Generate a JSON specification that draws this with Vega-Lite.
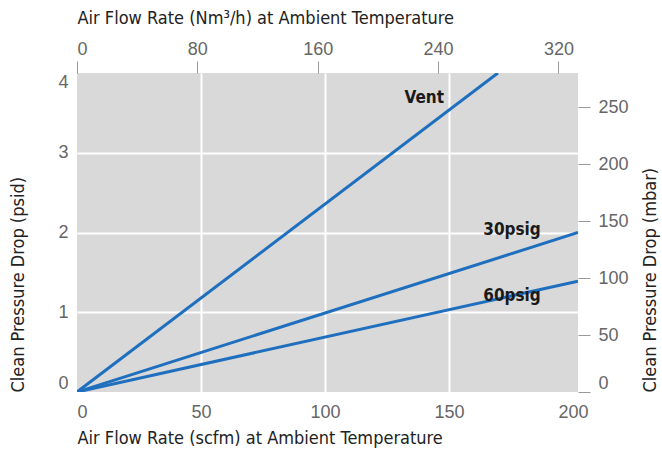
{
  "$schema": "https://vega.github.io/schema/vega-lite/v6.json",
  "width": 501,
  "height": 319,
  "autosize": {"type": "none"},
  "padding": {"left": 77, "top": 73, "right": 84, "bottom": 57},
  "background": "white",
  "config": {
    "view": {"fill": "#d9d9d9", "stroke": null},
    "font": "Liberation Sans",
    "axis": {
      "labelFont": "Liberation Sans",
      "labelFontSize": 18,
      "labelColor": "#666666",
      "titleFont": "DejaVu Sans Condensed, Liberation Sans, sans-serif",
      "titleFontSize": 18,
      "titleFontWeight": "normal",
      "titleColor": "#222222",
      "titleAnchor": "start",
      "titleAlign": "left",
      "titleBaseline": "middle"
    }
  },
  "layer": [
    {
      "layer": [
        {
          "data": {
            "values": [
              {"series": "Vent", "scfm": 0, "psid": 0},
              {"series": "Vent", "scfm": 169.7, "psid": 4},
              {"series": "30psig", "scfm": 0, "psid": 0},
              {"series": "30psig", "scfm": 202, "psid": 2.0},
              {"series": "60psig", "scfm": 0, "psid": 0},
              {"series": "60psig", "scfm": 202, "psid": 1.39}
            ]
          },
          "mark": {"type": "line", "strokeWidth": 3, "color": "#1f6fbf", "clip": true},
          "encoding": {
            "x": {
              "field": "scfm",
              "type": "quantitative",
              "scale": {"domain": [0, 202], "nice": false},
              "axis": {
                "orient": "bottom",
                "title": "Air Flow Rate (scfm) at Ambient Temperature",
                "values": [0, 50, 100, 150, 200],
                "format": "d",
                "domain": false,
                "ticks": false,
                "tickSize": 0,
                "labelPadding": 11,
                "grid": true,
                "gridColor": "white",
                "gridWidth": 2,
                "gridOpacity": {"condition": {"test": "datum.value === 0 || datum.value === 200", "value": 0}, "value": 1},
                "titleX": 0,
                "titleY": 46
              }
            },
            "y": {
              "field": "psid",
              "type": "quantitative",
              "scale": {"domain": [0, 4], "nice": false},
              "axis": {
                "orient": "left",
                "title": "Clean Pressure Drop (psid)",
                "values": [0, 1, 2, 3, 4],
                "format": "d",
                "domain": false,
                "ticks": false,
                "tickSize": 0,
                "labelPadding": 9,
                "labelFlush": true,
                "grid": true,
                "gridColor": "white",
                "gridWidth": 2,
                "gridOpacity": {"condition": {"test": "datum.value === 0 || datum.value === 4", "value": 0}, "value": 1},
                "titleAngle": 270,
                "titleX": -59,
                "titleY": 319
              }
            },
            "detail": {"field": "series"}
          }
        },
        {
          "data": {
            "values": [
              {"label": "Vent", "scfm": 140, "psid": 3.69},
              {"label": "30psig", "scfm": 175.4, "psid": 2.03},
              {"label": "60psig", "scfm": 175.4, "psid": 1.2}
            ]
          },
          "mark": {"type": "text", "font": "DejaVu Sans Condensed, Liberation Sans, sans-serif", "fontWeight": "bold", "fontSize": 17, "color": "#1a1a1a", "align": "center", "baseline": "middle"},
          "encoding": {
            "x": {"field": "scfm", "type": "quantitative"},
            "y": {"field": "psid", "type": "quantitative"},
            "text": {"field": "label"}
          }
        }
      ]
    },
    {
      "data": {"values": [{"nm3h": 0, "mbar": 0}]},
      "mark": {"type": "point", "opacity": 0},
      "encoding": {
        "x": {
          "field": "nm3h",
          "type": "quantitative",
          "scale": {"domain": [0, 333], "nice": false},
          "axis": {
            "orient": "top",
            "title": "Air Flow Rate (Nm³/h) at Ambient Temperature",
            "values": [0, 80, 160, 240, 320],
            "format": "d",
            "domain": false,
            "ticks": true,
            "tickSize": 12,
            "tickColor": "#999999",
            "tickWidth": 1,
            "labelPadding": 3,
            "grid": false,
            "titleX": 0,
            "titleY": -55
          }
        },
        "y": {
          "field": "mbar",
          "type": "quantitative",
          "scale": {"domain": [0, 280], "nice": false},
          "axis": {
            "orient": "right",
            "title": "Clean Pressure Drop (mbar)",
            "values": [0, 50, 100, 150, 200, 250],
            "format": "d",
            "domain": false,
            "ticks": true,
            "tickSize": 12,
            "tickColor": "#999999",
            "tickWidth": 1,
            "labelPadding": 8,
            "labelFlush": true,
            "grid": false,
            "titleAngle": 270,
            "titleX": 72,
            "titleY": 319
          }
        }
      }
    }
  ],
  "resolve": {
    "scale": {"x": "independent", "y": "independent"},
    "axis": {"x": "independent", "y": "independent"}
  }
}
